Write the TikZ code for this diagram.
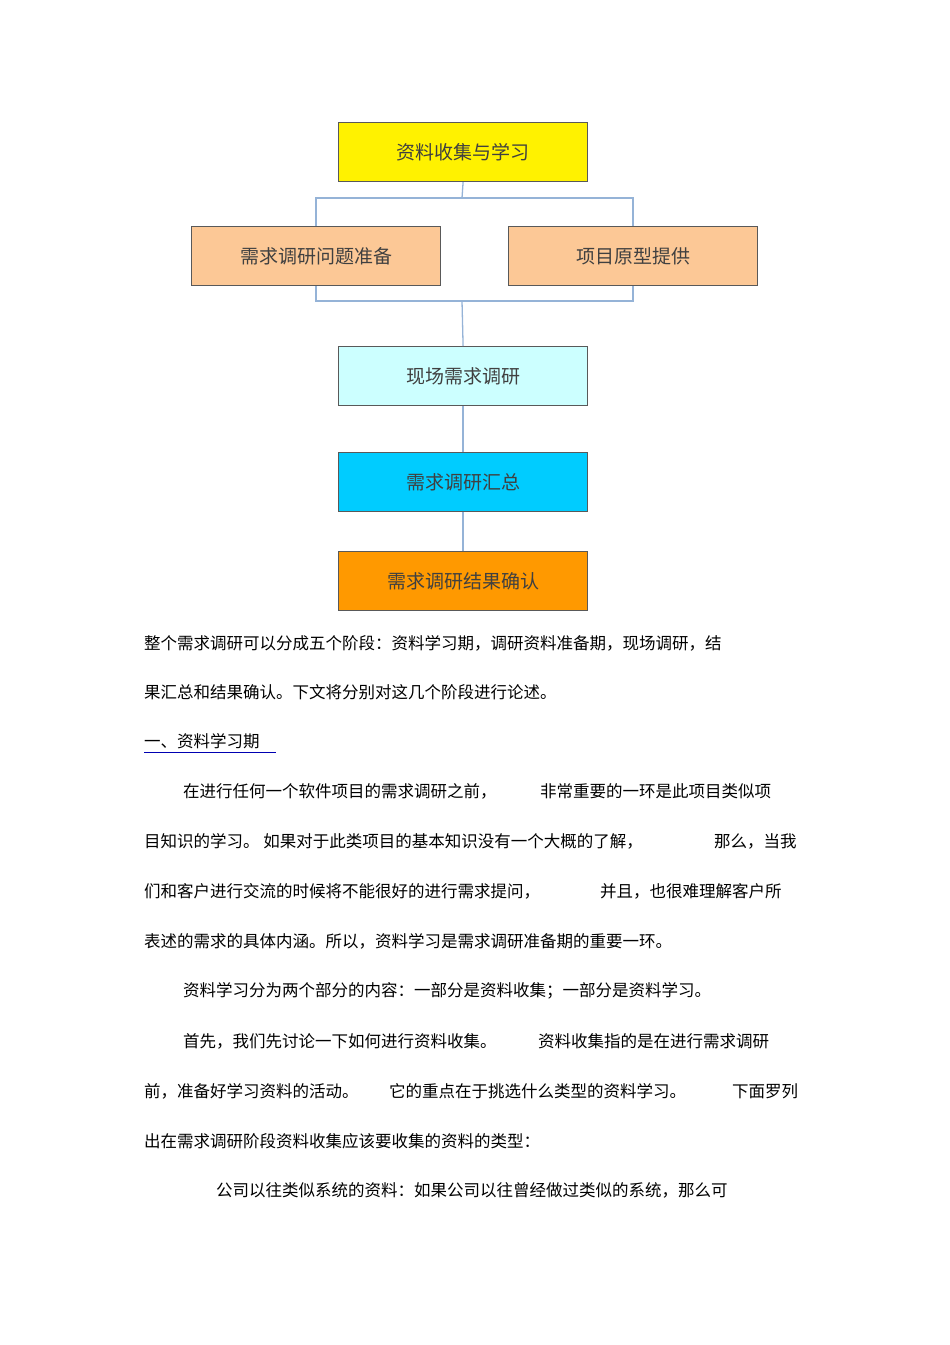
\documentclass[tikz,border=0pt]{standalone}
\usepackage{fontspec}
\newfontfamily\cjk{Noto Sans CJK SC}
\begin{document}
\begin{tikzpicture}[x=1pt,y=-1pt,
  box/.style={draw=black!65,line width=1.2pt,minimum width=249pt,minimum height=59pt,anchor=north west,inner sep=0pt,font=\cjk\fontsize{19}{19}\selectfont,text=black!75},
  conn/.style={draw={rgb,255:red,149;green,179;blue,215},line width=1.3pt},
  tx/.style={anchor=west,inner sep=0pt,font=\cjk\fontsize{16.5}{16.5}\selectfont}]
\useasboundingbox (0,0) rectangle (950,1345);
\definecolor{peach}{RGB}{252,200,150}
\node[box,fill=yellow] (a) at (338,122) {资料收集与学习};
\node[box,fill=peach] (b) at (191,226) {需求调研问题准备};
\node[box,fill=peach] (c) at (508,226) {项目原型提供};
\node[box,fill={rgb,255:red,204;green,255;blue,255}] (d) at (338,346) {现场需求调研};
\node[box,fill={rgb,255:red,0;green,204;blue,255}] (e) at (338,452) {需求调研汇总};
\node[box,fill={rgb,255:red,255;green,153;blue,0}] (f) at (338,551) {需求调研结果确认};
\coordinate (j1) at (462,198);
\coordinate (j2) at (462,301);
\draw[conn] (a.south) -- (j1);
\draw[conn] (b.north) |- (j1) -| (c.north);
\draw[conn] (b.south) |- (j2) -| (c.south);
\draw[conn] (j2) -- (d.north);
\draw[conn] (d.south) -- (e.north);
\draw[conn] (e.south) -- (f.north);
\node[tx] (t1) at (144,643) {整个需求调研可以分成五个阶段：资料学习期，调研资料准备期，现场调研，结};
\node[tx] (t2) at (144,692) {果汇总和结果确认。下文将分别对这几个阶段进行论述。};
\node[tx] (t3) at (144,741) {一、资料学习期};
\draw[blue!70!black,line width=0.8pt] (144,752) -- (276,752);
\node[tx] (t4) at (183,791) {在进行任何一个软件项目的需求调研之前，};
\node[tx] (t4b) at (540,791) {非常重要的一环是此项目类似项};
\node[tx] (t5) at (144,841) {目知识的学习。 如果对于此类项目的基本知识没有一个大概的了解，};
\node[tx] (t5b) at (714,841) {那么，当我};
\node[tx] (t6) at (144,891) {们和客户进行交流的时候将不能很好的进行需求提问，};
\node[tx] (t6b) at (600,891) {并且，也很难理解客户所};
\node[tx] (t7) at (144,941) {表述的需求的具体内涵。所以，资料学习是需求调研准备期的重要一环。};
\node[tx] (t8) at (183,991) {资料学习分为两个部分的内容：一部分是资料收集；一部分是资料学习。};
\node[tx] (t9) at (183,1041) {首先，我们先讨论一下如何进行资料收集。};
\node[tx] (t9b) at (538,1041) {资料收集指的是在进行需求调研};
\node[tx] (t10) at (144,1091) {前，准备好学习资料的活动。};
\node[tx] (t10b) at (389,1091) {它的重点在于挑选什么类型的资料学习。};
\node[tx] (t10c) at (732,1091) {下面罗列};
\node[tx] (t11) at (144,1141) {出在需求调研阶段资料收集应该要收集的资料的类型：};
\node[tx] (t12) at (216,1190) {公司以往类似系统的资料：如果公司以往曾经做过类似的系统，那么可};
\end{tikzpicture}
\end{document}
